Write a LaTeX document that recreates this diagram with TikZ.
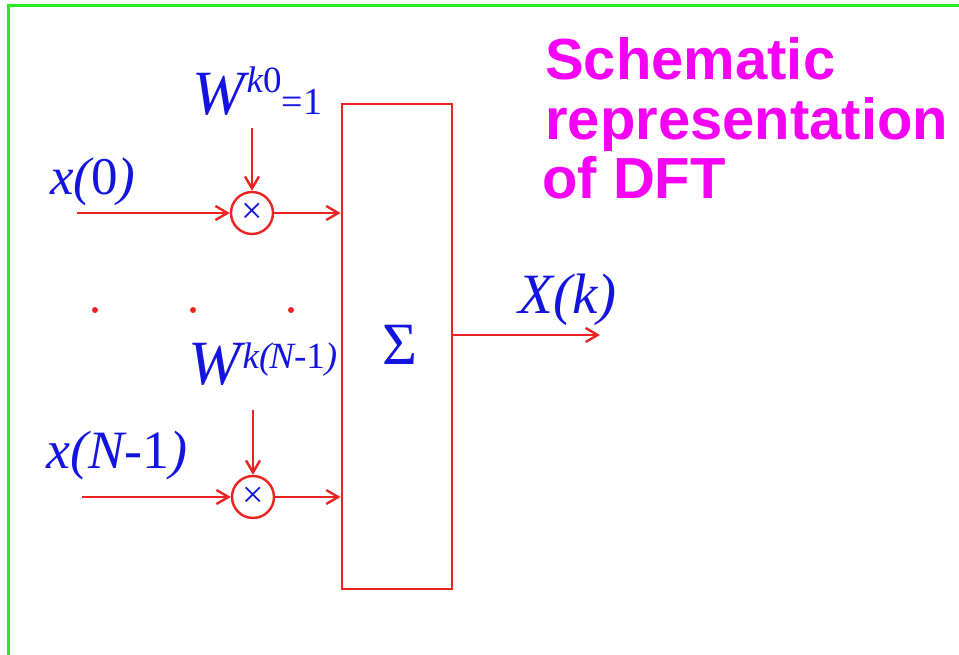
\documentclass[tikz,border=0pt]{standalone}
\usepackage{fontspec}
\setmainfont{Liberation Serif}
\newfontfamily\titlefont{Liberation Sans}
\usetikzlibrary{arrows.meta}
\definecolor{lred}{RGB}{235,35,35}
\definecolor{lblue}{RGB}{20,20,225}
\definecolor{lmag}{RGB}{245,0,245}
\definecolor{lgreen}{RGB}{40,235,40}
\newcommand{\fs}[1]{\fontsize{#1}{#1}\selectfont}
\tikzset{
  frameline/.style={draw=lgreen, line width=3pt},
  arr/.style={draw=lred, line width=2.4pt, -{Straight Barb[length=12pt,width=14pt,line width=2.4pt]}},
  sumbox/.style={draw=lred, line width=2.8pt, minimum width=110pt, minimum height=485pt, inner sep=0pt},
  mult/.style={draw=lred, line width=2.4pt, circle, minimum size=42pt, inner sep=0pt, text=lblue, font=\fs{38}},
  lbl/.style={text=lblue, inner sep=0pt, anchor=base west},
  ttl/.style={text=lmag, inner sep=0pt, anchor=base west, font=\titlefont\bfseries\fs{58}},
  dotmark/.style={fill=lred, circle, inner sep=0pt, minimum size=6pt}
}
\begin{document}
\begin{tikzpicture}[x=1pt,y=-1pt]
\useasboundingbox (0,0) rectangle (959,655);
\fill[white] (0,0) rectangle (959,655);
\draw[frameline] (8,656) -- (8,6) -- (960,6);

% summation box
\node[sumbox] (box) at (397,346.5) {};
\node[text=lblue, inner sep=0pt, font=\fs{60}] (sig) at (400,345) {Σ};

% multipliers
\node[mult] (m0) at (252,213) {\raisebox{-1pt}{×}};
\node[mult] (m1) at (253,497) {\raisebox{-1pt}{×}};

% free ends
\coordinate (in0) at (77,213);
\coordinate (w0) at (252,128);
\coordinate (in1) at (82,497);
\coordinate (w1) at (253,410);
\coordinate (out) at (600,335);

\draw[arr] (in0) -- (m0);
\draw[arr] (w0) -- (m0);
\draw[arr] (m0) -- (m0 -| box.west);
\draw[arr] (in1) -- (m1);
\draw[arr] (w1) -- (m1);
\draw[arr] (m1) -- (m1 -| box.west);
\draw[arr] (box.east |- out) -- (out);

% dots
\node[dotmark] (d1) at (95,310) {};
\node[dotmark] (d2) at (193,310) {};
\node[dotmark] (d3) at (291,310) {};

% labels
\node[lbl] (lx0) at (50,195) {\fs{53}\itshape x(\upshape 0\itshape )};
\node[lbl] (lw0) at (192,115) {\fs{63}\itshape W\kern2pt\raisebox{22pt}{\fs{37}\itshape k\upshape 0}\upshape\fs{38}=1};
\node[lbl] (lw1) at (188,384) {\fs{63}\itshape W\kern2pt\raisebox{16pt}{\fs{37}\itshape k(\kern-2ptN\upshape -1\itshape )}};
\node[lbl] (lx1) at (46,468) {\fs{54}\itshape x(N\upshape -1\itshape )};
\node[lbl] (lX) at (518,313) {\fs{57}\itshape X(k)};

% title
\node[ttl] (t1) at (545,80) {Schematic};
\node[ttl] (t2) at (545,140) {representation};
\node[ttl] (t3) at (542,199) {of DFT};
\end{tikzpicture}
\end{document}
